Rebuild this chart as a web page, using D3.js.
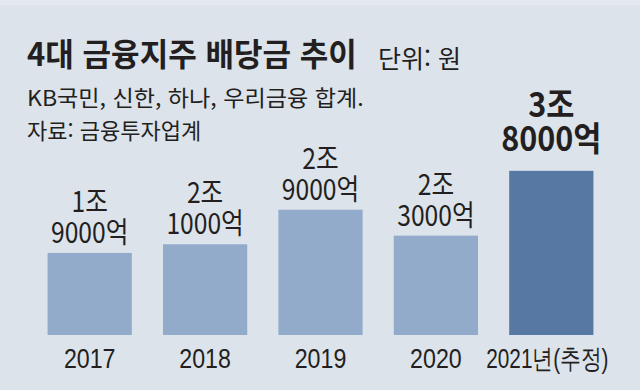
<!DOCTYPE html>
<html lang="ko">
<head>
<meta charset="UTF-8"/>
<title>4대 금융지주 배당금 추이</title>
<script src="https://cdn.jsdelivr.net/npm/d3@7"></script>
<style>
  body { margin: 0; background: #dce3eb; overflow: hidden; }
  svg { display: block; font-family: "Noto Sans CJK KR", "Noto Sans", sans-serif; }
  text { fill: #231f20; }
  .title { font-size: 32px; font-weight: 700; }
  .unit { font-size: 25px; font-weight: 400; }
  .sub { font-size: 22px; font-weight: 400; }
  .value { font-size: 29px; font-weight: 400; }
  .value.last { font-size: 34px; font-weight: 700; }
  .axis text { font-size: 27px; fill: #231f20; }
</style>
</head>
<body>
<svg width="640" height="390"></svg>
<script>
  // 단위: 조원
  const years = ['2017', '2018', '2019', '2020', '2021년(추정)'];
  const dividends = [1.9, 2.1, 2.9, 2.3, 3.8];
  const labelTop = ['1조', '2조', '2조', '2조', '3조'];
  const labelBottom = ['9000억', '1000억', '9000억', '3000억', '8000억'];

  const svg = d3.select('svg');
  const baseY = 335;
  const last = years.length - 1;

  svg.append('rect').attr('width', 640).attr('height', 390).attr('fill', '#dce3eb');
  svg.append('rect').attr('width', 640).attr('height', 5).attr('fill', '#e4e9ef');

  const x = d3.scaleBand()
    .domain(years)
    .range([32, 609])
    .paddingInner(0.27)
    .paddingOuter(0.135);

  const y = d3.scaleLinear()
    .domain([0, 4])
    .range([baseY, baseY - 172.8]);

  // the original font is condensed, so squeeze text horizontally
  function place(sel, px, py, sx) {
    sel.attr('transform', `translate(${px},${py}) scale(${sx},1)`);
  }

  svg.append('text').attr('class', 'title')
    .text('4대 금융지주 배당금 추이')
    .call(place, 27, 66, 0.97);

  svg.append('text').attr('class', 'unit')
    .text('단위: 원')
    .call(place, 378, 68, 1.0);

  svg.append('text').attr('class', 'sub')
    .text('KB국민, 신한, 하나, 우리금융 합계.')
    .call(place, 27, 106, 1.05);

  svg.append('text').attr('class', 'sub')
    .text('자료: 금융투자업계')
    .call(place, 27, 139, 1.0);

  const chart = svg.append('g');

  chart.selectAll('rect.bar')
    .data(dividends)
    .enter()
    .append('rect')
    .attr('class', 'bar')
    .attr('x', (d, i) => x(years[i]))
    .attr('y', d => y(d))
    .attr('width', x.bandwidth())
    .attr('height', d => baseY - y(d))
    .attr('fill', (d, i) => i === last ? '#5678a3' : '#93abca');

  const labels = chart.selectAll('text.value')
    .data(dividends)
    .enter()
    .append('text')
    .attr('class', (d, i) => i === last ? 'value last' : 'value')
    .attr('text-anchor', 'middle')
    .attr('transform', (d, i) => {
      const cx = x(years[i]) + x.bandwidth() / 2;
      const sx = i === last ? 0.9 : 0.85;
      return `translate(${cx},${y(d)}) scale(${sx},1)`;
    });

  labels.append('tspan')
    .attr('x', 0)
    .attr('y', (d, i) => i === last ? -54 : -41)
    .text((d, i) => labelTop[i]);

  labels.append('tspan')
    .attr('x', 0)
    .attr('y', (d, i) => i === last ? -20 : -10)
    .text((d, i) => labelBottom[i]);

  const axis = svg.append('g')
    .attr('class', 'axis')
    .attr('transform', `translate(0, ${baseY})`)
    .call(d3.axisBottom(x).tickSize(0).tickPadding(0));

  axis.select('.domain').remove();
  axis.selectAll('.tick text')
    .attr('dy', null)
    .attr('y', 33)
    .attr('x', 0)
    .attr('transform', d => `scale(${d === years[last] ? 0.77 : 0.86},1)`);
  axis.selectAll('.tick')
    .attr('transform', d => `translate(${x(d) + x.bandwidth() / 2 - (d === years[last] ? 4 : 0)},0)`);
</script>
</body>
</html>
